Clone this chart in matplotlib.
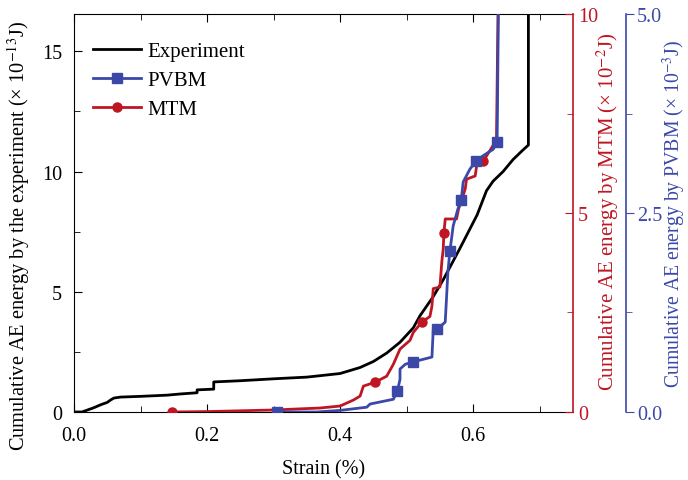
import matplotlib
matplotlib.use("Agg")
import matplotlib.pyplot as plt
from matplotlib.ticker import MultipleLocator

plt.rcParams['font.family'] = ['Liberation Serif', 'DejaVu Serif']
plt.rcParams['mathtext.fontset'] = 'stix'
plt.rcParams['font.size'] = 14.5

# Experiment (x 10^-13 J)
exp_strain = [0.0, 0.012, 0.02, 0.03, 0.04, 0.05, 0.055, 0.06, 0.07, 0.10, 0.14, 0.16,
              0.185, 0.185, 0.21, 0.21, 0.25, 0.30, 0.35, 0.40, 0.43, 0.45, 0.47, 0.49,
              0.51, 0.52, 0.54, 0.555, 0.58, 0.606, 0.62, 0.63, 0.645, 0.66, 0.675,
              0.683, 0.683]
exp_energy = [0.0, 0.0, 0.08, 0.18, 0.3, 0.4, 0.5, 0.58, 0.62, 0.65, 0.7, 0.75,
              0.8, 0.92, 0.95, 1.25, 1.3, 1.38, 1.45, 1.6, 1.85, 2.1, 2.45, 2.9,
              3.5, 4.0, 4.8, 5.5, 6.8, 8.2, 9.2, 9.6, 10.0, 10.5, 10.9, 11.1, 17.0]

# MTM (x 10^-2 J)
mtm_strain = [0.147, 0.2, 0.3, 0.37, 0.40, 0.42, 0.43, 0.435, 0.453, 0.47, 0.48, 0.49,
              0.505, 0.51, 0.523, 0.535, 0.538, 0.54, 0.55, 0.553, 0.555, 0.556, 0.558,
              0.575, 0.578, 0.583, 0.588, 0.59, 0.603, 0.606, 0.615, 0.62, 0.63, 0.635,
              0.638]
mtm_energy = [0.0, 0.01, 0.05, 0.1, 0.15, 0.3, 0.4, 0.65, 0.75, 0.9, 1.2, 1.58,
              1.8, 2.0, 2.26, 2.4, 2.66, 3.1, 3.14, 3.8, 4.1, 4.5, 4.85,
              4.85, 5.1, 5.35, 5.6, 5.85, 5.93, 6.28, 6.3, 6.43, 6.7, 6.8,
              11.0]
mtm_marks = [0, 8, 14, 21, 30]

# PVBM (x 10^-3 J)
pvbm_strain = [0.305, 0.365, 0.40, 0.44, 0.445, 0.48, 0.486, 0.49, 0.49, 0.498, 0.51,
               0.538, 0.54, 0.546, 0.558, 0.562, 0.565, 0.57, 0.577, 0.582, 0.585,
               0.595, 0.604, 0.615, 0.63, 0.636, 0.639]
pvbm_energy = [0.0, 0.0, 0.02, 0.06, 0.1, 0.16, 0.26, 0.41, 0.54, 0.6, 0.63,
               0.69, 1.04, 1.04, 1.13, 1.76, 2.02, 2.34, 2.55, 2.66, 2.89,
               3.05, 3.15, 3.22, 3.3, 3.39, 6.0]
pvbm_marks = [0, 6, 10, 13, 16, 19, 22, 25]

red = '#BE1622'
blue = '#3C48A8'

fig = plt.figure(figsize=(6.88, 4.81), dpi=100)
ax = fig.add_axes([0.1076, 0.1414, 0.7252, 0.8274])
ax2 = ax.twinx()
ax3 = ax.twinx()

l1, = ax.plot(exp_strain, exp_energy, color='black', lw=2, label='Experiment')
l3, = ax2.plot(mtm_strain, mtm_energy, color=red, lw=2, marker='o', ms=6.5,
               markevery=mtm_marks, label='MTM')
l2, = ax3.plot(pvbm_strain, pvbm_energy, color=blue, lw=2, marker='s', ms=6.5,
               markevery=pvbm_marks, label='PVBM')

ax.set_xlim(0, 0.75)
ax.set_ylim(0, 16.55)
ax.xaxis.set_major_locator(MultipleLocator(0.2))
ax.xaxis.set_minor_locator(MultipleLocator(0.1))
ax.yaxis.set_major_locator(MultipleLocator(5))
ax.yaxis.set_minor_locator(MultipleLocator(2.5))
ax.xaxis.set_major_formatter(plt.FormatStrFormatter('%.1f'))
ax.tick_params(which='both', direction='in', top=True, labelsize=14.5)
ax.tick_params(which='major', length=6)
ax.tick_params(which='minor', length=4)
ax.tick_params(axis='y', pad=8.5)
ax.tick_params(axis='x', pad=10)
ax.spines['right'].set_visible(False)
ax.set_xlabel('Strain (%)', fontsize=14.5)
ax.xaxis.set_label_coords(0.5, -0.118)
ax.set_ylabel('Cumulative AE energy by the experiment (× 10$^{-13}$J)', fontsize=14.7)
ax.yaxis.set_label_coords(-0.084, 0.445)

ax2.set_ylim(0, 10)
ax2.yaxis.set_major_locator(MultipleLocator(5))
ax2.yaxis.set_minor_locator(MultipleLocator(2.5))
ax2.spines['right'].set_color(red)
ax2.spines['right'].set_linewidth(1.2)
ax2.tick_params(axis='y', which='both', direction='in', colors=red, labelsize=14.5)
ax2.tick_params(axis='y', which='major', length=6)
ax2.tick_params(axis='y', which='minor', length=4)
ax2.set_ylabel('Cumulative AE energy by MTM (× 10$^{-2}$J)', color=red, fontsize=15)
ax2.yaxis.set_label_coords(1.044, 0.505)
for s in ['left', 'top', 'bottom']:
    ax2.spines[s].set_visible(False)

ax3.set_ylim(0, 5)
ax3.spines['right'].set_position(('axes', 1.106))
ax3.spines['right'].set_color(blue)
ax3.spines['right'].set_linewidth(1.2)
ax3.yaxis.set_major_locator(MultipleLocator(2.5))
ax3.yaxis.set_minor_locator(MultipleLocator(1.25))
ax3.yaxis.set_major_formatter(plt.FormatStrFormatter('%.1f'))
ax3.tick_params(axis='y', which='both', direction='out', colors=blue, labelsize=14.5)
ax3.tick_params(axis='y', which='major', length=6, pad=2)
ax3.tick_params(axis='y', which='minor', length=4)
ax3.set_ylabel('Cumulative AE energy by PVBM (× 10$^{-3}$J)', color=blue, fontsize=14.2)
ax3.yaxis.set_label_coords(1.176, 0.5)
for s in ['left', 'top', 'bottom']:
    ax3.spines[s].set_visible(False)

ax3.legend([l1, l2, l3], ['Experiment', 'PVBM', 'MTM'], loc='upper left',
           frameon=False, fontsize=15, handlelength=2.3, handletextpad=0.3,
           labelspacing=0.45, bbox_to_anchor=(0.0, 0.977))

fig.savefig('out.png', dpi=100)
